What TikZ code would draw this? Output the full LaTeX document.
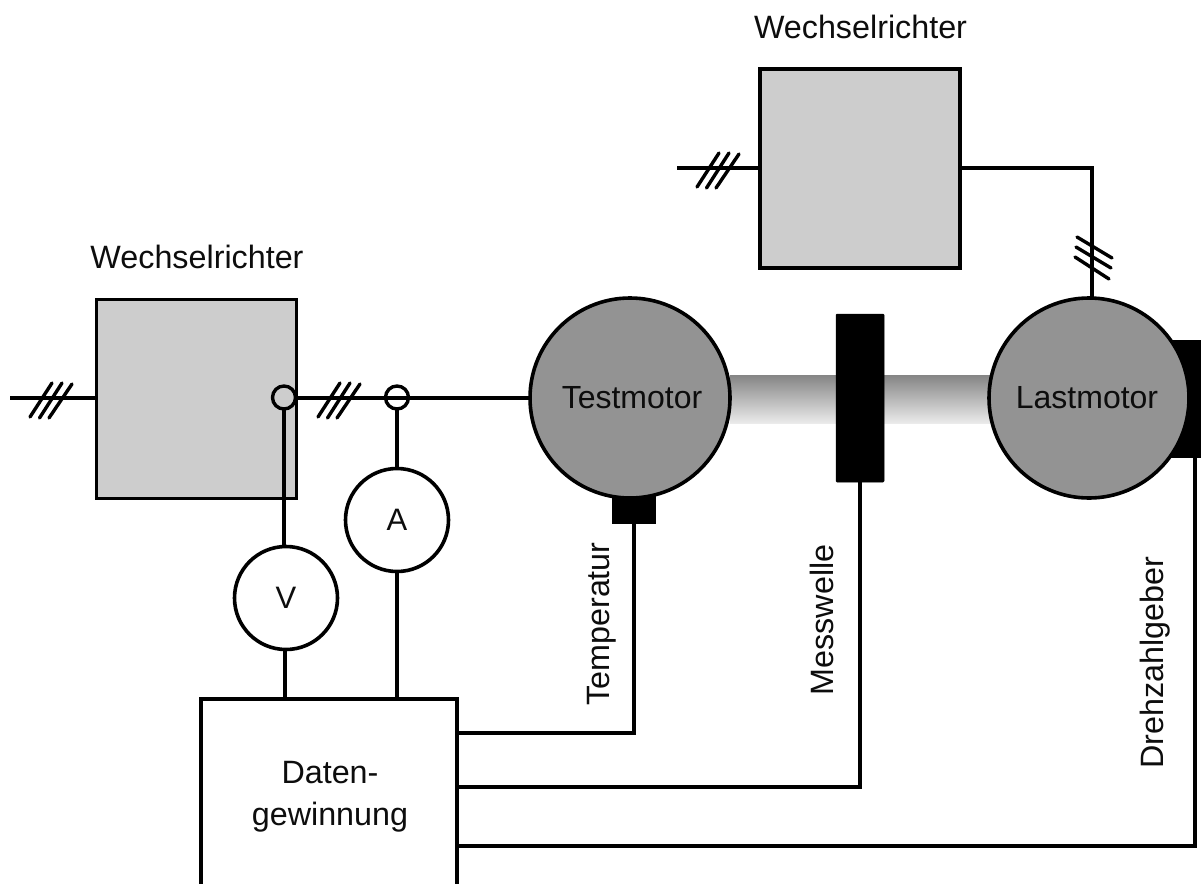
\documentclass[tikz,border=0pt]{standalone}
\usepackage{fontspec}
\setmainfont{Liberation Sans}
\definecolor{invfill}{RGB}{205,205,205}
\definecolor{motfill}{RGB}{147,147,147}
\definecolor{inkc}{RGB}{0,0,0}
\tikzset{
  wire/.style={draw=inkc,line width=3.5pt,line cap=butt,line join=miter},
  tick/.style={draw=inkc,line width=3.4pt,line cap=round},
  lbl/.style={font=\fontsize{32.3}{38}\selectfont,text=black!95,inner sep=0pt,outer sep=0pt},
  invbox/.style={draw=inkc,line width=3.6pt,fill=invfill,minimum width=200pt,minimum height=199pt,inner sep=0pt,outer sep=0pt},
  motor/.style={circle,draw=inkc,line width=3.6pt,fill=motfill,minimum size=200pt,inner sep=0pt,outer sep=0pt,font=\fontsize{32}{38}\selectfont,text=black!95},
  meter/.style={circle,draw=inkc,line width=3.6pt,fill=white,minimum size=103pt,inner sep=0pt,outer sep=0pt,font=\fontsize{31}{36}\selectfont,text=black!95},
  tap/.style={circle,draw=inkc,line width=3.4pt,minimum size=23pt,inner sep=0pt,outer sep=0pt},
  blk/.style={fill=black,draw=black,line width=0.5pt,inner sep=0pt,outer sep=0pt},
}
\newcommand{\hatchright}[1]{%
  \draw[tick] ([shift={(-11,18)}]#1) -- ([shift={(11,-16)}]#1);
  \draw[tick] ([shift={(-1.5,19)}]#1) -- ([shift={(21,-16)}]#1);
  \draw[tick] ([shift={(8,19)}]#1) -- ([shift={(31,-15)}]#1);}
\newcommand{\hatchdown}[1]{%
  \draw[tick] ([shift={(-15,-21)}]#1) -- ([shift={(20,0)}]#1);
  \draw[tick] ([shift={(-16,-11)}]#1) -- ([shift={(19,10)}]#1);
  \draw[tick] ([shift={(-17,-1)}]#1) -- ([shift={(17,21)}]#1);}
\begin{document}
\begin{tikzpicture}[x=1pt,y=-1pt]
\clip (0,0) rectangle (1201,883);
\fill[white] (0,0) rectangle (1201,883);
% shaft
\shade[top color=black!48,bottom color=black!8] (730,375) rectangle (990,423);
% encoder and sensors behind motors
\node[blk,minimum width=60pt,minimum height=117pt,anchor=north west] (enc) at (1170,340) {};
\node[blk,minimum width=43pt,minimum height=32pt,anchor=north west] (temp) at (612,491) {};
\node[blk,rounded corners=1pt,minimum width=48pt,minimum height=168pt,anchor=north west] (mw) at (836,314) {};
% main blocks
\node[invbox,anchor=north west] (inva) at (96.5,299.5) {};
\node[invbox,anchor=north west] (invb) at (760,69) {};
\node[motor] (test) at (630,398) {\hspace*{4pt}Testmotor};
\node[motor] (last) at (1089,398) {\hspace*{-4pt}Lastmotor};
\node[draw=inkc,line width=3.4pt,fill=white,minimum width=256pt,minimum height=220pt,anchor=north west,inner sep=0pt,outer sep=0pt] (daq) at (201,699) {};
\node[lbl,align=center] (daqt) at (330,797) {Daten-\\[4pt]gewinnung};
\node[meter] (vm) at (286,598) {V};
\node[meter] (am) at (397,520) {A};
\node[tap,fill=invfill] (ta) at (284,397.5) {};
% labels
\node[lbl] (wa) at (197,257) {Wechselrichter};
\node[lbl] (wb) at (860.5,27) {Wechselrichter};
\node[lbl,rotate=90] (lt) at (602,624) {Temperatur};
\node[lbl,rotate=90] (lm) at (821.5,620) {Messwelle};
\node[lbl,rotate=90] (ld) at (1155,663) {Drehzahlgeber};
% free ends
\coordinate (ina) at (10,398);
\coordinate (inb) at (677,168);
\coordinate (hb) at (708,169);
\coordinate (ha) at (41,399);
\coordinate (hc) at (329,399);
\coordinate (hd) at (1092,258);
\coordinate (lastin) at (1092,298);
% connectors
\draw[wire] (ina) -- (ina -| inva.west);
\draw[wire] (inva.east |- test.west) -- (test.west);
\draw[wire] (inb) -- (inb -| invb.west);
\draw[wire] (inb -| invb.east) -| (lastin);
\draw[wire] (ta.south) -- (ta.south |- vm.north);
\node[tap] (tb) at (397,397.5) {};
\draw[wire] (tb.south) -- (am.north);
\draw[wire] (vm.south -| 285,0) -- (285,699);
\draw[wire] (am.south) -- (am.south |- daq.north);
\draw[wire] (temp.south -| 634,0) |- (daq.east |- 0,733);
\draw[wire] (mw.south -| 860,0) |- (daq.east |- 0,787);
\draw[wire] (enc.south -| 1195,0) |- (daq.east |- 0,846);
% hatches
\hatchright{ha}
\hatchright{hc}
\hatchright{hb}
\hatchdown{hd}
\end{tikzpicture}
\end{document}
